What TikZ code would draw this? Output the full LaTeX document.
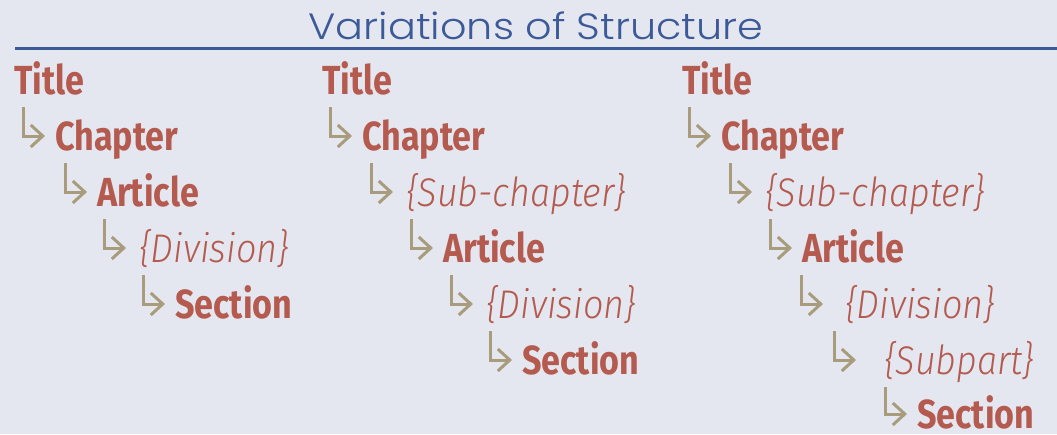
\documentclass[tikz,border=0pt]{standalone}
\usepackage{fontspec}
\usepackage{xcolor}
\usetikzlibrary{calc,arrows.meta}

\IfFontExistsTF{Poppins Light}
  {\newfontfamily\headfont{Poppins Light}[FakeStretch=1.13]}
  {\newfontfamily\headfont{Poppins}[FakeStretch=1.13]}
\newfontfamily\unitfont{Fira Sans}[FakeStretch=0.84]
\IfFontExistsTF{Fira Sans Light}
  {\newfontfamily\optfont{Fira Sans Light}[FakeStretch=0.9]}
  {\newfontfamily\optfont{Fira Sans}[FakeStretch=0.9]}

\definecolor{pagebg}{HTML}{E5E7F0}
\definecolor{headblue}{HTML}{3D5A98}
\definecolor{unitred}{HTML}{B45A4E}
\definecolor{branchtan}{HTML}{A89C7D}

\tikzset{
  unitnode/.style={anchor=base west, inner sep=0pt, text=unitred,
    font=\unitfont\bfseries\fontsize{40.6}{44}\selectfont},
  optnode/.style={anchor=base west, inner sep=0pt, text=unitred,
    font=\optfont\itshape\fontsize{40}{44}\selectfont},
  branch/.style={draw=branchtan, line width=3pt,
    -{Straight Barb[length=12pt,width=22pt]}},
}

\begin{document}
\begin{tikzpicture}[x=1pt, y=-1pt]
    \fill[pagebg] (0,0) rectangle (1057,434);
    \useasboundingbox (0,0) rectangle (1057,434);

    % heading and rule
    \node[anchor=base, inner sep=0pt, text=headblue,
      font=\headfont\fontsize{36.6}{40}\selectfont] (head) at (536,39) {Variations of Structure};
    \draw[headblue, line width=3.5pt] (15,48.5) -- (1057,48.5);

    % first column
    \node[unitnode] (t1) at (14,94) {Title};
    \node[unitnode] (c1) at (55,150) {Chapter};
    \node[unitnode] (a1) at (97,206) {Article};
    \node[optnode] (d1) at (139,262) {\{Division\}};
    \node[unitnode] (s1) at (175,318) {Section};

    \draw[branch] ($(c1.base west |- t1.base west)+(-32pt,-13pt)$) |- ([shift={(-10pt,14pt)}]c1.base west);
    \draw[branch] ($(a1.base west |- c1.base west)+(-32pt,-13pt)$) |- ([shift={(-10pt,14pt)}]a1.base west);
    \draw[branch] ($(d1.base west |- a1.base west)+(-35pt,-13pt)$) |- ([shift={(-13pt,14pt)}]d1.base west);
    \draw[branch] ($(s1.base west |- d1.base west)+(-32pt,-13pt)$) |- ([shift={(-10pt,14pt)}]s1.base west);

    % second column
    \node[unitnode] (t2) at (322,94) {Title};
    \node[unitnode] (c2) at (362,150) {Chapter};
    \node[optnode] (u2) at (406,206) {\{Sub-chapter\}};
    \node[unitnode] (a2) at (443,262) {Article};
    \node[optnode] (d2) at (486,318) {\{Division\}};
    \node[unitnode] (s2) at (522,374) {Section};

    \draw[branch] ($(c2.base west |- t2.base west)+(-32pt,-13pt)$) |- ([shift={(-10pt,14pt)}]c2.base west);
    \draw[branch] ($(u2.base west |- c2.base west)+(-35pt,-13pt)$) |- ([shift={(-13pt,14pt)}]u2.base west);
    \draw[branch] ($(a2.base west |- u2.base west)+(-32pt,-13pt)$) |- ([shift={(-10pt,14pt)}]a2.base west);
    \draw[branch] ($(d2.base west |- a2.base west)+(-35pt,-13pt)$) |- ([shift={(-13pt,14pt)}]d2.base west);
    \draw[branch] ($(s2.base west |- d2.base west)+(-32pt,-13pt)$) |- ([shift={(-10pt,14pt)}]s2.base west);

    % third column
    \node[unitnode] (t3) at (682,94) {Title};
    \node[unitnode] (c3) at (721,150) {Chapter};
    \node[optnode] (u3) at (765,206) {\{Sub-chapter\}};
    \node[unitnode] (a3) at (802,262) {Article};
    \node[optnode] (d3) at (845,318) {\{Division\}};
    \node[optnode] (p3) at (884,374) {\{Subpart\}};
    \node[unitnode] (s3) at (917,428) {Section};

    \draw[branch] ($(c3.base west |- t3.base west)+(-32pt,-13pt)$) |- ([shift={(-10pt,14pt)}]c3.base west);
    \draw[branch] ($(u3.base west |- c3.base west)+(-35pt,-13pt)$) |- ([shift={(-13pt,14pt)}]u3.base west);
    \draw[branch] ($(a3.base west |- u3.base west)+(-32pt,-13pt)$) |- ([shift={(-10pt,14pt)}]a3.base west);
    \draw[branch] ($(d3.base west |- a3.base west)+(-44pt,-13pt)$) |- ([shift={(-22pt,14pt)}]d3.base west);
    \draw[branch] ($(p3.base west |- d3.base west)+(-50pt,-13pt)$) |- ([shift={(-28pt,14pt)}]p3.base west);
    \draw[branch] ($(s3.base west |- p3.base west)+(-32pt,-13pt)$) |- ([shift={(-10pt,14pt)}]s3.base west);
\end{tikzpicture}
\end{document}
